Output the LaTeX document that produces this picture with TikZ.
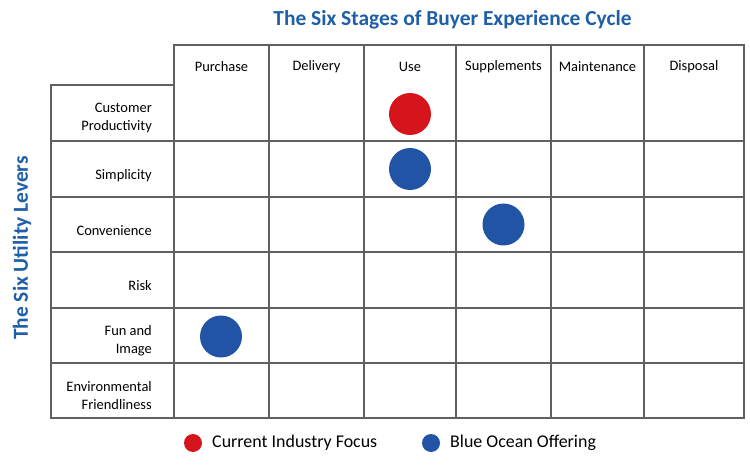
\documentclass[tikz,border=0pt]{standalone}
\usepackage{fontspec}
\setmainfont{Carlito}
\definecolor{titleblue}{HTML}{1F5FA8}
\definecolor{dotblue}{HTML}{2254A5}
\definecolor{dotred}{HTML}{D5141B}
\definecolor{gridgray}{HTML}{606060}
\tikzset{
  grid/.style={draw=gridgray, line width=1.1bp},
  cell/.style={inner sep=0pt, font=\fontsize{14.5}{18}\selectfont},
  lever/.style={cell, align=right, anchor=east},
  heading/.style={inner sep=0pt, text=titleblue, font=\fontsize{21.5}{24}\selectfont\bfseries},
  dot/.style={circle, inner sep=0pt, minimum size=42bp},
  key/.style={circle, inner sep=0pt, minimum size=18bp},
  keytext/.style={inner sep=0pt, anchor=west, font=\fontsize{18}{21}\selectfont}
}
\begin{document}
\begin{tikzpicture}[x=1bp, y=-1bp]
    \useasboundingbox (0,0) rectangle (750,472);
    \node[heading] (stages) at (452.5,20) {The Six Stages of Buyer Experience Cycle};
    \node[heading, rotate=90] (levers) at (22,248) {The Six Utility Levers};
    \draw[grid] (174,45) rectangle (744,418);
    \draw[grid] (51,85) rectangle (174,418);
    \foreach \x in {269,364,456,551,644}
        \draw[grid] (\x,45) -- (\x,418);
    \foreach \y in {141,197,252,308,363}
        \draw[grid] (51,\y) -- (744,\y);
    \foreach \x/\t [count=\i] in {221.5/Purchase, 316.5/Delivery, 410/Use,
        503.5/Supplements, 597.5/Maintenance, 694/Disposal}
        \node[cell] (stage\i) at (\x,66.5) {\t};
    \foreach \y/\t [count=\i] in {118/{Customer\\Productivity}, 175.5/Simplicity,
        231/Convenience, 285.5/Risk, 340.5/{Fun and\\Image}, 395.5/{Environmental\\Friendliness}}
        \node[lever] (lever\i) at (152,\y) {\t};
    \node[dot, fill=dotred] (focus) at (410,114) {};
    \node[dot, fill=dotblue] (simplicity) at (410,169) {};
    \node[dot, fill=dotblue] (convenience) at (503.5,224.5) {};
    \node[dot, fill=dotblue] (fun) at (221,336.5) {};
    \node[key, fill=dotred] (keyred) at (193,443) {};
    \node[keytext] (keyredtext) at (212,443) {Current Industry Focus};
    \node[key, fill=dotblue] (keyblue) at (431,443) {};
    \node[keytext] (keybluetext) at (450,443) {Blue Ocean Offering};
\end{tikzpicture}
\end{document}
